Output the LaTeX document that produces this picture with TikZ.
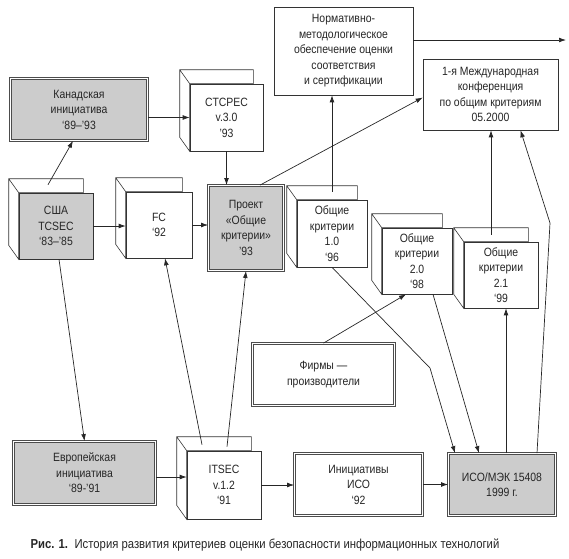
\documentclass[tikz,border=0pt]{standalone}
\usepackage{fontspec}
\setmainfont{Liberation Sans}[FakeStretch=0.87]
\usepackage{tikz}
\usetikzlibrary{positioning, backgrounds, calc, arrows.meta}
\tikzstyle{block} = [rectangle, draw=black!80, fill=white, align=center,
                 inner sep=1pt, line width=0.6pt, text=black!85,
                 font=\fontsize{12}{15.5}\selectfont]
\tikzstyle{framed} = [block, draw=black!70, line width=0.8pt,
                 double=white, double distance=1.1pt]
\tikzstyle{link} = [line width=0.7pt, draw=black!85,
                 -{Latex[length=7pt,width=4.8pt]}]
\tikzset{
	shaded/.style={fill=gray!40},
	cube/.style={block},
}

\begin{document}
\begin{tikzpicture}[x=1pt, y=-1pt]
\useasboundingbox (0,0) rectangle (569,558);

% upper row
\node [framed, shaded, minimum width=137pt, minimum height=62pt] (canada) at (79,109.5) {Канадская\\инициатива\\‘89–’93};
\node [cube, minimum width=73pt, minimum height=67pt] (ctcpec) at (226.5,117.5) {CTCPEC\\v.3.0\\’93};
\node [block, minimum width=139pt, minimum height=88pt] (norm) at (343.5,51) {Нормативно-\\методологическое\\обеспечение оценки\\соответствия\\и сертификации};
\node [block, minimum width=135pt, minimum height=71pt] (conf) at (490.5,94.5) {1-я Международная\\конференция\\по общим критериям\\05.2000};

% middle row
\node [cube, shaded, minimum width=74pt, minimum height=66pt] (usa) at (56,226) {США\\TCSEC\\‘83–’85};
\node [cube, minimum width=66pt, minimum height=66pt] (fc) at (159,225) {FC\\‘92};
\node [framed, shaded, minimum width=75pt, minimum height=85pt] (project) at (246,228) {Проект\\«Общие\\критерии»\\’93};
\node [cube, minimum width=70pt, minimum height=67pt] (ok10) at (332,233.5) {Общие\\критерии\\1.0\\‘96};
\node [cube, minimum width=70pt, minimum height=66pt] (ok20) at (417,261) {Общие\\критерии\\2.0\\‘98};
\node [cube, minimum width=74pt, minimum height=66pt] (ok21) at (501,275) {Общие\\критерии\\2.1\\‘99};
\node [framed, minimum width=142pt, minimum height=62pt] (firms) at (323.5,374.5) {Фирмы —\\производители};

% lower row
\node [framed, shaded, minimum width=142pt, minimum height=63pt] (europe) at (84.5,473) {Европейская\\инициатива\\‘89-’91};
\node [cube, minimum width=74pt, minimum height=68pt] (itsec) at (224,485) {ITSEC\\v.1.2\\‘91};
\node [framed, minimum width=128pt, minimum height=62pt] (isoinit) at (358.5,484.5) {Инициативы\\ИСО\\‘92};
\node [framed, shaded, minimum width=107pt, minimum height=62pt] (isomek) at (502,484.5) {ИСО/МЭК 15408\\1999 г.};

\node [anchor=west, text=black!85, font=\fontsize{13}{15}\selectfont] (caption) at (27,545) {\textbf{Рис. 1.}\enspace История развития критериев оценки безопасности информационных технологий};

% back faces of the boxes
\begin{scope}[on background layer]
\foreach \n in {usa, fc, ctcpec, itsec, ok10, ok20, ok21}
	\draw [line width=0.6pt, draw=black!80, fill=white]
		($(\n.north west)+(-10pt,14pt)$) -- ($(\n.north east)+(-10pt,14pt)$)
		-- ($(\n.north east)+(-10pt,0pt)$) -- (\n.north west) -- (\n.south west)
		-- ($(\n.south west)+(-10pt,14pt)$) -- cycle
		($(\n.north west)+(-10pt,14pt)$) -- (\n.north west);
\end{scope}

\coordinate (beyond) at (566,40);
\coordinate (bend1) at (550,223);
\coordinate (bend2) at (430,368);
\coordinate (top21) at ([xshift=-10pt,yshift=7pt]ok21.north);
\coordinate (foot21) at ([xshift=4pt]isomek.north);
\coordinate (eu) at ([yshift=-4pt]europe.east);

\draw [link] (canada.east |- ctcpec.west) -- (ctcpec.west);
\draw [link] ([xshift=-8pt,yshift=8pt]usa.north) -- ([xshift=-6pt]canada.south);
\draw [link] (usa.east) -- (usa.east -| fc.west);
\draw [link] (fc.east) -- (fc.east -| project.west);
\draw [link] (ctcpec.south) -- (ctcpec.south |- project.north);
\draw [link] ([xshift=14pt]project.north) -- ([yshift=-3pt]conf.west);
\draw [link] ([yshift=8pt]ok10.north) -- (ok10.north |- norm.south);
\draw [link] ([yshift=11pt]norm.east) -- (beyond);
\draw [link] (top21) -- (top21 |- conf.south);
\draw [link] (foot21) -- (foot21 |- ok21.south);
\draw [link] ([xshift=35pt]isomek.north) -- (bend1) -- ([xshift=30pt]conf.south);
\draw [link] (ok10.south) -- (bend2) -- ([xshift=-47pt]isomek.north);
\draw [link] ([xshift=16pt]ok20.south) -- ([xshift=-23pt]isomek.north);
\draw [link] (firms.north) -- ([xshift=-11pt]ok20.south);
\draw [link] ([xshift=-22pt,yshift=6pt]itsec.north) -- ([xshift=6pt]fc.south);
\draw [link] ([xshift=3pt,yshift=4pt]itsec.north) -- (project.south);
\draw [link] ([xshift=3pt]usa.south) -- (europe.north);
\draw [link] (eu) -- (eu -| itsec.west);
\draw [link] (itsec.east) -- (itsec.east -| isoinit.west);
\draw [link] (isoinit.east) -- (isoinit.east -| isomek.west);

\end{tikzpicture}
\end{document}
